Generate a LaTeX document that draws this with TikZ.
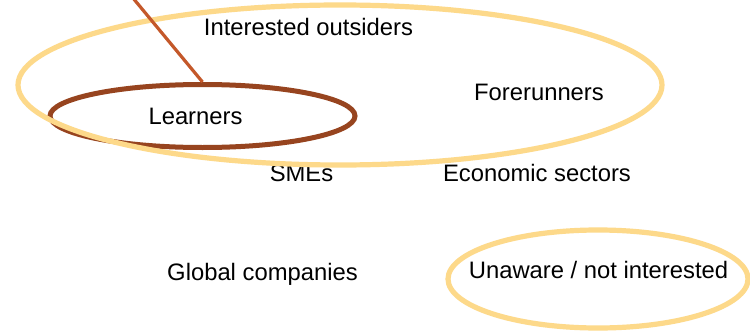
\documentclass[tikz,border=0pt]{standalone}
\usepackage{fontspec}
\setmainfont{Liberation Sans}
\usetikzlibrary{shapes.geometric}
\definecolor{ringyellow}{HTML}{FDD98A}
\definecolor{ringbrown}{HTML}{97441F}
\definecolor{linkorange}{HTML}{C4582A}
\tikzset{
  label/.style={anchor=base, inner sep=0pt, font=\fontsize{23.8}{28}\selectfont},
  ring/.style={ellipse, draw, inner sep=0pt},
  yellowring/.style={ring, draw=ringyellow, line width=5.2pt},
  brownring/.style={ring, draw=ringbrown, line width=5pt},
  link/.style={draw=linkorange, line width=3.2pt},
}
\begin{document}
\begin{tikzpicture}[x=1pt, y=-1pt]
  \clip (0,0) rectangle (750,332);
  \fill[white] (0,0) rectangle (750,332);

  % group labels
  \node[label] (outsiders) at (308.5,35) {Interested outsiders};
  \node[label] (learners) at (195.5,124) {Learners};
  \node[label] (forerunners) at (539,100.5) {Forerunners};
  \node[label] (smes) at (301.5,181.5) {SMEs};
  \node[label] (sectors) at (537,181.5) {Economic sectors};
  \node[label] (global) at (262.5,280.5) {Global companies};
  \node[label] (unaware) at (598.5,278) {Unaware / not interested};

  % rings around the groups
  \node[brownring, minimum width=305pt, minimum height=63pt] (learnersring) at (202.5,116) {};
  \node[yellowring, minimum width=644pt, minimum height=160pt] (outsidersring) at (340,85) {};
  \node[yellowring, minimum width=300pt, minimum height=98pt] (unawarering) at (598,279) {};

  % pointer into the learners ring
  \coordinate (pointer) at (128,-8);
  \draw[link] (pointer) -- (learnersring.north);
\end{tikzpicture}
\end{document}
